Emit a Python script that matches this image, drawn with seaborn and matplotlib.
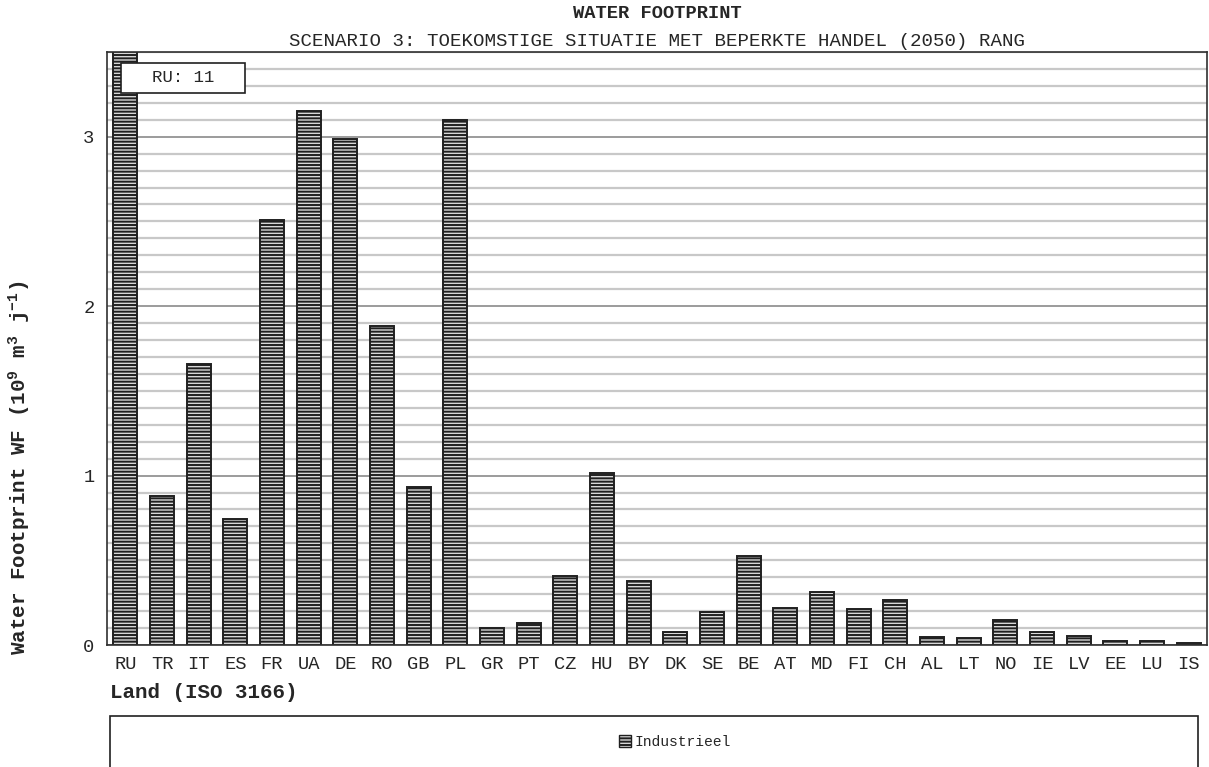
import numpy as np
import pandas as pd
import matplotlib
matplotlib.use("Agg")
import matplotlib.pyplot as plt
import seaborn as sns
from matplotlib.patches import Rectangle, Patch
from matplotlib.ticker import MultipleLocator

# data (10^9 m3 per year)
countries = ["RU", "TR", "IT", "ES", "FR", "UA", "DE", "RO", "GB", "PL",
             "GR", "PT", "CZ", "HU", "BY", "DK", "SE", "BE", "AT", "MD",
             "FI", "CH", "AL", "LT", "NO", "IE", "LV", "EE", "LU", "IS"]
industrieel = [11.0, 0.878, 1.66, 0.746, 2.51, 3.154, 2.988, 1.88, 0.933, 3.10,
               0.10, 0.132, 0.41, 1.016, 0.377, 0.079, 0.195, 0.525, 0.217, 0.31,
               0.21, 0.266, 0.05, 0.04, 0.15, 0.079, 0.055, 0.026, 0.026, 0.01]

df = pd.DataFrame({"Land": countries, "WF": industrieel})

sns.set_style("white")
plt.rcParams["font.family"] = ["Liberation Mono", "DejaVu Sans"]
plt.rcParams["mathtext.default"] = "regular"
plt.rcParams["hatch.linewidth"] = 1.4
plt.rcParams["hatch.color"] = "#555555"

fig = plt.figure(figsize=(12.09, 7.67), dpi=100)
W, H = 1209, 767
ax = fig.add_axes([107 / W, 1 - 645 / H, 1100 / W, 593 / H])

sns.barplot(data=df, x="Land", y="WF", ax=ax, color="#d8d8d8", width=0.66,
            edgecolor="#202020", linewidth=1.4, saturation=1)
for p in ax.patches:
    p.set_hatch("-----")

ax.set_xlim(-0.5, len(countries) - 0.5)
ax.set_ylim(0, 3.5)

# grid
ax.yaxis.set_major_locator(MultipleLocator(1))
ax.yaxis.set_minor_locator(MultipleLocator(0.1))
ax.yaxis.set_major_formatter(lambda v, pos: f"{v:.0f}")
ax.grid(axis="y", which="minor", color="#c8c8c8", linewidth=1.6)
ax.grid(axis="y", which="major", color="#8a8a8a", linewidth=1.2)
ax.set_axisbelow(True)

# ticks
ax.set_xticks(np.arange(len(countries)))
ax.set_xticklabels(countries, fontsize=13.5)
ax.set_xticks(np.arange(-0.5, len(countries), 1), minor=True)
ax.tick_params(axis="x", which="major", length=0, pad=8)
ax.tick_params(axis="x", which="minor", length=7, width=1, color="#303030",
               direction="out")
ax.tick_params(axis="y", which="major", length=10, width=1, direction="inout",
               labelsize=13.5, pad=4, color="#303030")
ax.tick_params(axis="y", which="minor", length=5, width=1, direction="in",
               color="#303030")

for s in ax.spines.values():
    s.set_color("#303030")
    s.set_linewidth(1.2)

ax.set_xlabel("")
ax.set_ylabel("")

# titles
fig.text(657 / W, 1 - 14 / H, "WATER FOOTPRINT", ha="center", va="center",
         fontsize=13.5, fontweight="bold")
fig.text(657 / W, 1 - 42 / H,
         "SCENARIO 3: TOEKOMSTIGE SITUATIE MET BEPERKTE HANDEL (2050) RANG",
         ha="center", va="center", fontsize=13.8)

fig.text(20 / W, 1 - 655 / H,
         r"Water Footprint WF (10$^{9}$ m$^{3}$ j$^{-1}$)",
         rotation=90, ha="center", va="bottom", fontsize=15, fontweight="bold")
fig.text(110 / W, 1 - 693 / H, "Land (ISO 3166)", ha="left", va="center",
         fontsize=15, fontweight="bold")

# RU value box
ax.add_patch(Rectangle(((121 - 107) / 1100, (645 - 93) / 593), 124 / 1100,
                       30 / 593, transform=ax.transAxes, facecolor="white",
                       edgecolor="#202020", linewidth=1.2, zorder=5))
ax.text((183 - 107) / 1100, (645 - 78) / 593, "RU: 11",
        transform=ax.transAxes, ha="center", va="center", fontsize=12.5,
        zorder=6)

# legend box
fig.patches.append(Rectangle((110 / W, -0.05), 1088 / W, 0.05 + (767 - 716) / H,
                             transform=fig.transFigure, facecolor="white",
                             edgecolor="#202020", linewidth=1.2))
handle = Patch(facecolor="#d8d8d8", edgecolor="#202020", hatch="-----",
               linewidth=1.0)
fig.legend([handle], ["Industrieel"], loc="center",
           bbox_to_anchor=(675 / W, 1 - 742 / H), frameon=False, fontsize=10.5,
           handlelength=0.8, handleheight=0.8, handletextpad=0.3)

fig.savefig("out.png", dpi=100)
